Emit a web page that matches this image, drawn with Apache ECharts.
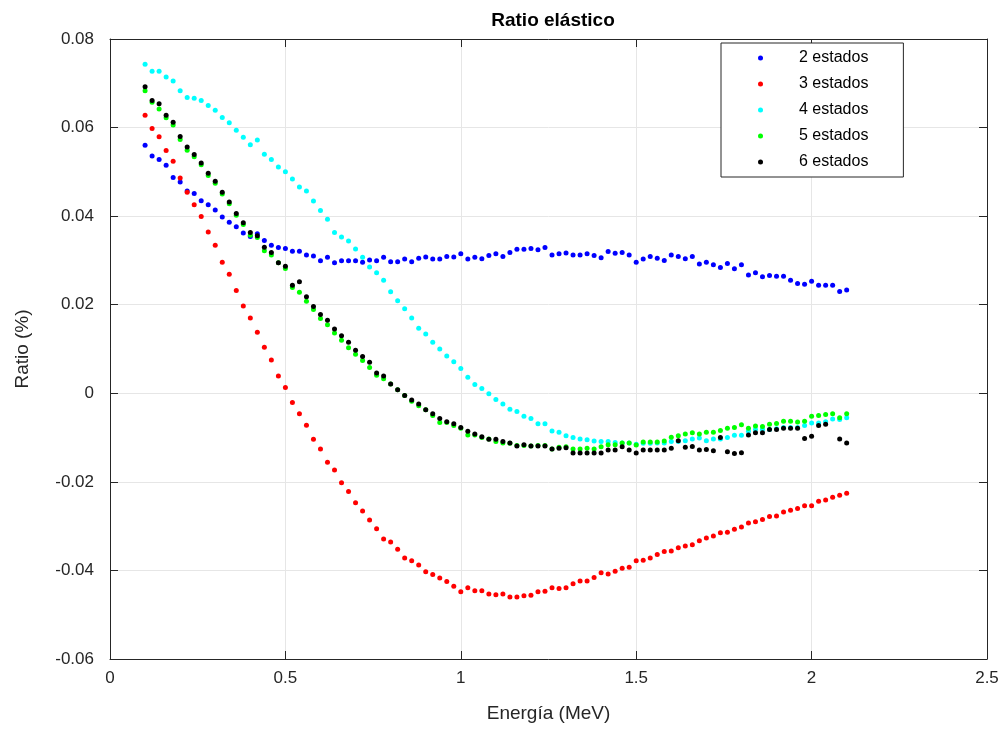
<!DOCTYPE html>
<html>
<head>
<meta charset="utf-8">
<script src="https://cdn.jsdelivr.net/npm/echarts@6/dist/echarts.min.js"></script>
<style>
  html, body { margin: 0; padding: 0; background: #fff; }
  #chart { width: 1005px; height: 731px; }
</style>
</head>
<body>
<div id="chart"></div>
<script>
// energía (MeV)
const energia = [
  0.10, 0.12, 0.14, 0.16, 0.18, 0.20, 0.22, 0.24, 0.26, 0.28,
  0.30, 0.32, 0.34, 0.36, 0.38, 0.40, 0.42, 0.44, 0.46, 0.48,
  0.50, 0.52, 0.54, 0.56, 0.58, 0.60, 0.62, 0.64, 0.66, 0.68,
  0.70, 0.72, 0.74, 0.76, 0.78, 0.80, 0.82, 0.84, 0.86, 0.88,
  0.90, 0.92, 0.94, 0.96, 0.98, 1.00, 1.02, 1.04, 1.06, 1.08,
  1.10, 1.12, 1.14, 1.16, 1.18, 1.20, 1.22, 1.24, 1.26, 1.28,
  1.30, 1.32, 1.34, 1.36, 1.38, 1.40, 1.42, 1.44, 1.46, 1.48,
  1.50, 1.52, 1.54, 1.56, 1.58, 1.60, 1.62, 1.64, 1.66, 1.68,
  1.70, 1.72, 1.74, 1.76, 1.78, 1.80, 1.82, 1.84, 1.86, 1.88,
  1.90, 1.92, 1.94, 1.96, 1.98, 2.00, 2.02, 2.04, 2.06, 2.08,
  2.10
]

const estados2 = [
  0.0560, 0.0536, 0.0528, 0.0515, 0.0487, 0.0477, 0.0457, 0.0451, 0.0435, 0.0426,
  0.0414, 0.0398, 0.0386, 0.0376, 0.0362, 0.0354, 0.0360, 0.0345, 0.0334, 0.0329,
  0.0327, 0.0321, 0.0321, 0.0312, 0.0310, 0.0299, 0.0307, 0.0295, 0.0299, 0.0299,
  0.0299, 0.0296, 0.0301, 0.0299, 0.0307, 0.0297, 0.0297, 0.0303, 0.0297, 0.0305,
  0.0308, 0.0303, 0.0303, 0.0309, 0.0308, 0.0315, 0.0303, 0.0307, 0.0304, 0.0311,
  0.0315, 0.0309, 0.0318, 0.0325, 0.0325, 0.0327, 0.0324, 0.0329, 0.0312, 0.0315,
  0.0317, 0.0312, 0.0312, 0.0315, 0.0311, 0.0306, 0.0320, 0.0316, 0.0318, 0.0312,
  0.0296, 0.0303, 0.0309, 0.0305, 0.0300, 0.0312, 0.0309, 0.0304, 0.0309, 0.0292,
  0.0296, 0.0290, 0.0284, 0.0293, 0.0281, 0.0290, 0.0267, 0.0272, 0.0263, 0.0266,
  0.0264, 0.0264, 0.0255, 0.0248, 0.0246, 0.0253, 0.0244, 0.0244, 0.0244, 0.0230,
  0.0233
]

const estados3 = [
  0.0628, 0.0598, 0.0579, 0.0548, 0.0524, 0.0486, 0.0454, 0.0426, 0.0399, 0.0364,
  0.0334, 0.0296, 0.0269, 0.0232, 0.0197, 0.0170, 0.0138, 0.0104, 0.0075, 0.0039,
  0.0013, -0.0021, -0.0046, -0.0072, -0.0104, -0.0126, -0.0156, -0.0173, -0.0202, -0.0222,
  -0.0247, -0.0266, -0.0286, -0.0306, -0.0329, -0.0336, -0.0352, -0.0372, -0.0378, -0.0388,
  -0.0403, -0.0409, -0.0417, -0.0425, -0.0436, -0.0448, -0.0439, -0.0446, -0.0446, -0.0453,
  -0.0455, -0.0453, -0.0460, -0.0460, -0.0457, -0.0456, -0.0448, -0.0447, -0.0439, -0.0441,
  -0.0439, -0.0430, -0.0424, -0.0424, -0.0416, -0.0405, -0.0408, -0.0402, -0.0395, -0.0393,
  -0.0378, -0.0377, -0.0372, -0.0364, -0.0357, -0.0356, -0.0349, -0.0345, -0.0342, -0.0333,
  -0.0327, -0.0322, -0.0315, -0.0314, -0.0307, -0.0302, -0.0293, -0.0290, -0.0285, -0.0278,
  -0.0277, -0.0268, -0.0264, -0.0260, -0.0254, -0.0254, -0.0244, -0.0241, -0.0235, -0.0230,
  -0.0226
]

const estados4 = [
  0.0743, 0.0727, 0.0727, 0.0714, 0.0705, 0.0683, 0.0668, 0.0666, 0.0661, 0.0650,
  0.0639, 0.0623, 0.0611, 0.0594, 0.0578, 0.0561, 0.0572, 0.0540, 0.0528, 0.0511,
  0.0500, 0.0484, 0.0466, 0.0457, 0.0434, 0.0413, 0.0393, 0.0363, 0.0353, 0.0344,
  0.0326, 0.0307, 0.0285, 0.0272, 0.0255, 0.0229, 0.0209, 0.0191, 0.0170, 0.0147,
  0.0134, 0.0115, 0.0100, 0.0084, 0.0071, 0.0056, 0.0036, 0.0020, 0.0011, -0.0001,
  -0.0014, -0.0024, -0.0036, -0.0041, -0.0052, -0.0057, -0.0069, -0.0069, -0.0085, -0.0088,
  -0.0096, -0.0100, -0.0103, -0.0105, -0.0108, -0.0109, -0.0109, -0.0111, -0.0112, -0.0112,
  -0.0115, -0.0113, -0.0113, -0.0112, -0.0112, -0.0109, -0.0109, -0.0107, -0.0103, -0.0101,
  -0.0107, -0.0103, -0.0103, -0.0100, -0.0095, -0.0095, -0.0086, -0.0082, -0.0082, -0.0082,
  -0.0080, -0.0077, -0.0077, -0.0077, -0.0073, -0.0067, -0.0067, -0.0064, -0.0058, -0.0059,
  -0.0055
]

const estados5 = [
  0.0683, 0.0657, 0.0642, 0.0622, 0.0606, 0.0573, 0.0549, 0.0534, 0.0516, 0.0492,
  0.0474, 0.0450, 0.0428, 0.0402, 0.0381, 0.0357, 0.0352, 0.0322, 0.0312, 0.0295,
  0.0282, 0.0239, 0.0228, 0.0208, 0.0189, 0.0169, 0.0155, 0.0136, 0.0120, 0.0103,
  0.0088, 0.0074, 0.0058, 0.0041, 0.0033, 0.0021, 0.0008, -0.0005, -0.0018, -0.0028,
  -0.0037, -0.0050, -0.0066, -0.0066, -0.0073, -0.0079, -0.0094, -0.0094, -0.0100, -0.0103,
  -0.0109, -0.0112, -0.0113, -0.0118, -0.0118, -0.0119, -0.0118, -0.0118, -0.0126, -0.0122,
  -0.0121, -0.0126, -0.0126, -0.0124, -0.0126, -0.0121, -0.0116, -0.0116, -0.0112, -0.0112,
  -0.0117, -0.0110, -0.0110, -0.0110, -0.0108, -0.0099, -0.0096, -0.0092, -0.0089, -0.0092,
  -0.0088, -0.0088, -0.0084, -0.0079, -0.0077, -0.0071, -0.0079, -0.0074, -0.0075, -0.0070,
  -0.0068, -0.0063, -0.0063, -0.0065, -0.0063, -0.0052, -0.0050, -0.0048, -0.0046, -0.0055,
  -0.0046
]

// null = punto que no aparece
const estados6 = [
  0.0692, 0.0661, 0.0654, 0.0628, 0.0612, 0.0580, 0.0556, 0.0539, 0.0520, 0.0497,
  0.0479, 0.0454, 0.0432, 0.0406, 0.0385, 0.0363, 0.0356, 0.0330, 0.0318, 0.0295,
  0.0287, 0.0244, 0.0252, 0.0218, 0.0196, 0.0178, 0.0165, 0.0145, 0.0130, 0.0115,
  0.0097, 0.0083, 0.0070, 0.0046, 0.0039, 0.0021, 0.0008, -0.0005, -0.0015, -0.0024,
  -0.0037, -0.0046, -0.0057, -0.0064, -0.0069, -0.0077, -0.0086, -0.0092, -0.0098, -0.0104,
  -0.0104, -0.0109, -0.0112, -0.0119, -0.0116, -0.0119, -0.0119, -0.0119, -0.0126, -0.0124,
  -0.0123, -0.0135, -0.0135, -0.0135, -0.0135, -0.0135, -0.0128, -0.0128, -0.0121, -0.0128,
  -0.0135, -0.0128, -0.0128, -0.0128, -0.0128, -0.0124, -0.0107, -0.0122, -0.0120, -0.0128,
  -0.0127, -0.0130, -0.0100, -0.0132, -0.0136, -0.0134, -0.0094, -0.0089, -0.0089, -0.0082,
  -0.0082, -0.0079, -0.0079, -0.0079, -0.0102, -0.0097, -0.0073, -0.0070, null, -0.0103,
  -0.0112
]

const nombres = ['2 estados', '3 estados', '4 estados', '5 estados', '6 estados']
const colores = ['#0000ff', '#ff0000', '#00ffff', '#00ff00', '#000000']
const valores = [estados2, estados3, estados4, estados5, estados6]

const myChart = echarts.init(document.getElementById('chart'))

const fuente = 'Liberation Sans, Arial, sans-serif'
const ejeColor = '#262626'

// formato de las etiquetas (0.08, 0, -0.02 ...)
const fmt = v => String(parseFloat(v.toFixed(2)))

const option = {
  backgroundColor: '#fff',
  animation: false,
  textStyle: { fontFamily: fuente },
  title: {
    text: 'Ratio elástico',
    left: 548,
    textAlign: 'center',
    top: 6,
    textStyle: { fontFamily: fuente, fontWeight: 'bold', fontSize: 19, color: '#000' }
  },
  legend: {
    data: nombres,
    orient: 'vertical',
    left: 721,
    top: 43,
    padding: [6, 35, 6, 37],
    itemGap: 8,
    itemWidth: 5,
    itemHeight: 5,
    icon: 'circle',
    borderColor: '#262626',
    borderWidth: 1,
    backgroundColor: '#fff',
    textStyle: {
      fontFamily: fuente,
      fontSize: 16,
      color: '#000',
      lineHeight: 18,
      padding: [0, 0, 0, 31]
    }
  },
  grid: {
    left: 110,
    right: 18,
    top: 39,
    bottom: 72
  },
  xAxis: [
    {
      type: 'value',
      min: 0,
      max: 2.5,
      interval: 0.5,
      name: 'Energía (MeV)',
      nameLocation: 'middle',
      nameGap: 45,
      nameTextStyle: { fontFamily: fuente, fontSize: 19, color: ejeColor },
      axisLine: { show: true, onZero: false, lineStyle: { color: ejeColor, width: 1 } },
      axisTick: { show: true, inside: true, length: 8, lineStyle: { color: ejeColor } },
      axisLabel: { fontFamily: fuente, fontSize: 17, color: ejeColor, margin: 11, formatter: fmt },
      splitLine: { show: true, lineStyle: { color: '#e6e6e6', width: 1 } }
    },
    {
      type: 'value',
      position: 'top',
      min: 0,
      max: 2.5,
      interval: 0.5,
      axisLine: { show: true, onZero: false, lineStyle: { color: ejeColor, width: 1 } },
      axisTick: { show: true, inside: true, length: 8, lineStyle: { color: ejeColor } },
      axisLabel: { show: false },
      splitLine: { show: false }
    }
  ],
  yAxis: [
    {
      type: 'value',
      min: -0.06,
      max: 0.08,
      interval: 0.02,
      name: 'Ratio (%)',
      nameLocation: 'middle',
      nameGap: 78,
      nameTextStyle: { fontFamily: fuente, fontSize: 19, color: ejeColor },
      axisLine: { show: true, onZero: false, lineStyle: { color: ejeColor, width: 1 } },
      axisTick: { show: true, inside: true, length: 8, lineStyle: { color: ejeColor } },
      axisLabel: { fontFamily: fuente, fontSize: 17, color: ejeColor, margin: 16, formatter: fmt },
      splitLine: { show: true, lineStyle: { color: '#e6e6e6', width: 1 } }
    },
    {
      type: 'value',
      position: 'right',
      min: -0.06,
      max: 0.08,
      interval: 0.02,
      axisLine: { show: true, onZero: false, lineStyle: { color: ejeColor, width: 1 } },
      axisTick: { show: true, inside: true, length: 8, lineStyle: { color: ejeColor } },
      axisLabel: { show: false },
      splitLine: { show: false }
    }
  ],
  series: nombres.map((nombre, k) => ({
    name: nombre,
    type: 'scatter',
    xAxisIndex: 0,
    yAxisIndex: 0,
    symbol: 'circle',
    symbolSize: 5,
    itemStyle: { color: colores[k], opacity: 1 },
    emphasis: { disabled: true },
    data: energia.map((x, i) => [x, valores[k][i]]).filter(p => p[1] !== null)
  }))
}

myChart.setOption(option)
window.addEventListener('resize', () => {
  myChart.resize()
})
</script>
</body>
</html>
